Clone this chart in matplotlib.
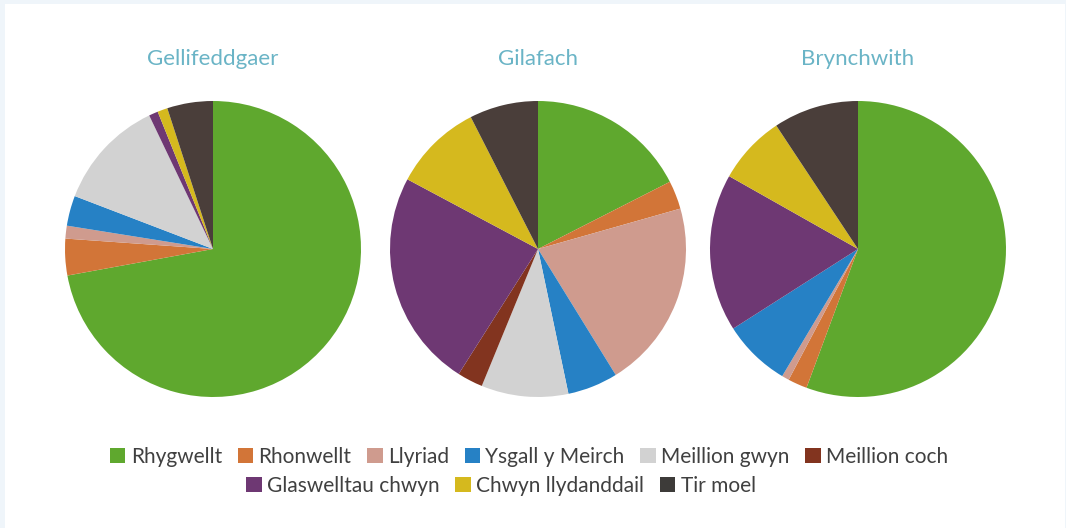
import matplotlib
matplotlib.use("Agg")
import matplotlib.pyplot as plt
from matplotlib.patches import Patch, Rectangle

plt.rcParams['font.family'] = ['Lato', 'DejaVu Sans']

# categories and colours
categories = ['Rhygwellt', 'Rhonwellt', 'Llyriad', 'Ysgall y Meirch', 'Meillion gwyn',
              'Meillion coch', 'Glaswelltau chwyn', 'Chwyn llydanddail', 'Tir moel']
colors = ['#5fa82e', '#d27538', '#cf9b8e', '#2681c5', '#d2d2d2',
          '#82341f', '#6e3873', '#d5b91e', '#4a3e3a']

sites = ['Gellifeddgaer', 'Gilafach', 'Brynchwith']

# percentages
gellifeddgaer = [72.2, 4.0, 1.4, 3.3, 12.1, 0.0, 1.0, 1.1, 5.0]
gilafach = [17.5, 3.1, 20.6, 5.5, 9.5, 2.8, 23.8, 9.7, 7.5]
brynchwith = [55.6, 2.1, 0.8, 7.4, 0.0, 0.0, 17.2, 7.5, 9.3]
values = [gellifeddgaer, gilafach, brynchwith]

W, H = 1066, 528
fig = plt.figure(figsize=(W / 100, H / 100), dpi=100)
fig.patch.set_facecolor('#eff5fa')
fig.patches.append(Rectangle((5 / W, 0), 1060 / W, 524 / H, transform=fig.transFigure,
                             facecolor='white', edgecolor='none', zorder=-5))

centers = [213, 538, 858]
cy = 249
r = 148
for name, vals, cx in zip(sites, values, centers):
    ax = fig.add_axes([(cx - r) / W, 1 - (cy + r) / H, 2 * r / W, 2 * r / H])
    ax.pie(vals, colors=colors, startangle=90, counterclock=False,
           wedgeprops={'linewidth': 0})
    ax.set_xlim(-1, 1)
    ax.set_ylim(-1, 1)
    ax.set_aspect('equal')
    ax.axis('off')
    fig.text(cx / W, 1 - 59 / H, name, ha='center', va='center',
             fontsize=16, color='#6ab4c6')

handles = [Patch(facecolor=c, edgecolor='none') for c in colors]
handles[8] = Patch(facecolor='#3d3b39', edgecolor='none')

leg_kw = dict(frameon=False, fontsize=15, handlelength=0.75, handleheight=0.75,
              handletextpad=0.25, columnspacing=0.75, borderaxespad=0, labelcolor='#404040')
leg1 = fig.legend(handles[:6], categories[:6], loc='center', ncol=6,
                  bbox_to_anchor=(529 / W, 1 - 457 / H), **leg_kw)
leg2 = fig.legend(handles[6:], categories[6:], loc='center', ncol=3,
                  bbox_to_anchor=(501 / W, 1 - 486 / H), **leg_kw)

fig.savefig('out.png', dpi=100)
